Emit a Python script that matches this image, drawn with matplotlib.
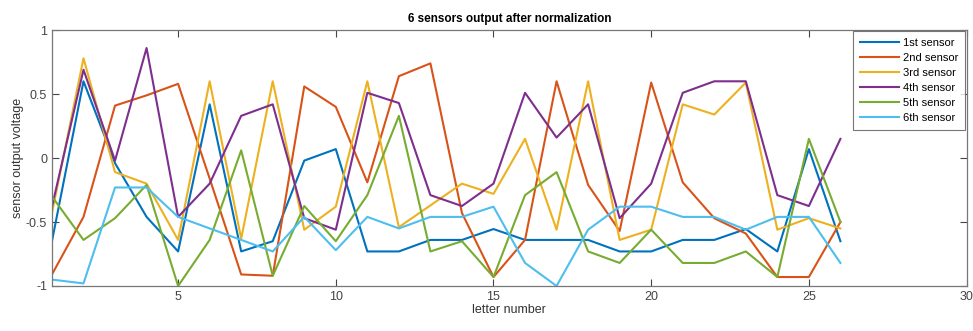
import numpy as np
import matplotlib
matplotlib.use("Agg")
import matplotlib.pyplot as plt

# letter index and sensor readings (normalized)
letters = np.arange(1, 27)
sensor1 = [-0.65, 0.60, -0.04, -0.46, -0.73, 0.42, -0.73, -0.65, -0.02, 0.07,
           -0.73, -0.73, -0.64, -0.64, -0.555, -0.64, -0.64, -0.64, -0.73, -0.73,
           -0.64, -0.64, -0.555, -0.73, 0.07, -0.65]
sensor2 = [-0.91, -0.46, 0.41, 0.49, 0.58, -0.16, -0.91, -0.92, 0.56, 0.40,
           -0.19, 0.64, 0.74, -0.43, -0.93, -0.64, 0.60, -0.21, -0.57, 0.59,
           -0.19, -0.47, -0.59, -0.93, -0.93, -0.50]
sensor3 = [-0.43, 0.78, -0.11, -0.20, -0.64, 0.60, -0.63, 0.60, -0.56, -0.38,
           0.60, -0.54, -0.37, -0.20, -0.28, 0.15, -0.56, 0.60, -0.64, -0.56,
           0.42, 0.34, 0.59, -0.56, -0.47, -0.55]
sensor4 = [-0.38, 0.69, -0.02, 0.86, -0.46, -0.20, 0.33, 0.42, -0.47, -0.56,
           0.51, 0.43, -0.29, -0.375, -0.20, 0.51, 0.16, 0.42, -0.47, -0.20,
           0.51, 0.60, 0.60, -0.29, -0.375, 0.15]
sensor5 = [-0.30, -0.64, -0.47, -0.21, -1.00, -0.64, 0.06, -0.92, -0.375, -0.65,
           -0.29, 0.33, -0.73, -0.65, -0.93, -0.29, -0.11, -0.73, -0.82, -0.56,
           -0.82, -0.82, -0.73, -0.93, 0.15, -0.50]
sensor6 = [-0.95, -0.98, -0.23, -0.23, -0.46, -0.55, -0.64, -0.73, -0.46, -0.72,
           -0.46, -0.55, -0.46, -0.46, -0.38, -0.82, -1.00, -0.56, -0.38, -0.38,
           -0.46, -0.46, -0.56, -0.46, -0.46, -0.82]
labels = ["1st sensor", "2nd sensor", "3rd sensor", "4th sensor", "5th sensor", "6th sensor"]

# matlab default line colours
colors = ["#0072BD", "#D95319", "#EDB120", "#7E2F8E", "#77AC30", "#4DBEEE"]

plt.rcParams['font.family'] = ['Liberation Sans', 'DejaVu Sans']

fig = plt.figure(figsize=(9.73, 3.31), dpi=100)
ax = fig.add_axes([0.0534, 0.136, 0.94, 0.773])

for s, lab, c in zip([sensor1, sensor2, sensor3, sensor4, sensor5, sensor6], labels, colors):
    ax.plot(letters, s, color=c, lw=1.5, label=lab)

ax.set_xlim(1, 30)
ax.set_ylim(-1, 1)
ax.set_xticks([5, 10, 15, 20, 25, 30])
ax.set_yticks([-1, -0.5, 0, 0.5, 1])
ax.set_yticklabels(["-1", "-0.5", "0", "0.5", "1"])
ax.tick_params(direction='in', top=True, right=True, labelsize=9,
               colors='#444444', length=5, width=0.8)
for sp in ax.spines.values():
    sp.set_color('#777777')
    sp.set_linewidth(0.9)

ax.set_title("6 sensors output after normalization", fontsize=8.5, fontweight='bold', pad=6)
ax.set_xlabel("letter number", fontsize=9, color='#333333', labelpad=1)
ax.set_ylabel("sensor output voltage", fontsize=9, color='#333333', labelpad=1)

leg = ax.legend(loc='upper right', fontsize=8, frameon=True, fancybox=False,
                borderaxespad=0.1, handlelength=3.5, labelspacing=0.45,
                borderpad=0.6, handletextpad=0.4)
leg.get_frame().set_edgecolor('#555555')
leg.get_frame().set_linewidth(0.8)

fig.savefig("out.png", dpi=100)
